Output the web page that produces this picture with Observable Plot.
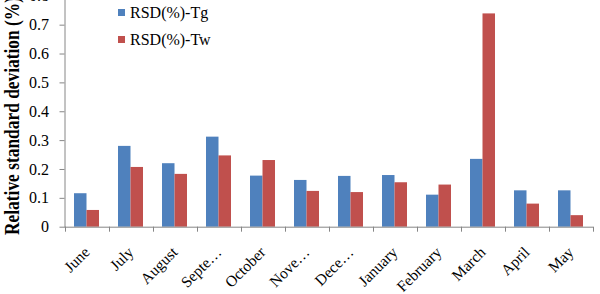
<!DOCTYPE html>
<html>
<head>
<meta charset="utf-8">
<script src="https://cdn.jsdelivr.net/npm/d3@7"></script>
<script src="https://cdn.jsdelivr.net/npm/@observablehq/plot@0.6"></script>
<style>
  body { margin: 0; background: #fff; }
  #chart { position: relative; width: 600px; height: 294px; overflow: hidden; }
  #chart svg text { fill: #000; }
  .legend { position: absolute; left: 118px; top: -1px; font: 16px "Liberation Serif", serif; color: #000; }
  .legend .row { display: flex; align-items: center; height: 27px; }
  .legend .sw { width: 7px; height: 7px; margin-right: 5px; }
</style>
</head>
<body>
<div id="chart"></div>
<script>
// Monthly relative standard deviation of Tg and Tw
const months = ["June", "July", "August", "Septe…", "October", "Nove…", "Dece…",
                "January", "February", "March", "April", "May"];
const rsdTg = [0.116, 0.280, 0.220, 0.312, 0.177, 0.162, 0.176, 0.179, 0.111, 0.235, 0.126, 0.126];
const rsdTw = [0.058, 0.207, 0.183, 0.247, 0.231, 0.124, 0.120, 0.154, 0.146, 0.739, 0.080, 0.040];
const seriesNames = ["RSD(%)-Tg", "RSD(%)-Tw"];
const seriesColors = ["#4F81BD", "#C0504D"];
const yTicks = [0, 0.1, 0.2, 0.3, 0.4, 0.5, 0.6, 0.7, 0.8];
const yTitle = "Relative standard deviation (%)";

const rows = months.map((m, i) => ({month: m, tg: rsdTg[i], tw: rsdTw[i]}));
const axisGray = "#868686";

const plot = Plot.plot({
  width: 600,
  height: 294,
  marginLeft: 64.5,
  marginRight: 7,
  marginTop: -4.2,
  marginBottom: 67.3,
  style: {color: axisGray, fontFamily: "'Liberation Serif', serif", fontSize: "16px", overflow: "visible"},
  x: {domain: months, padding: 0, axis: null},
  y: {domain: [0, 0.8], ticks: yTicks, tickSize: 5, tickPadding: 11, line: true, label: null,
      tickFormat: d => d === 0 ? "0" : d.toFixed(1)},
  marks: [
    Plot.barY(rows, {x: "month", y: "tg", fill: seriesColors[0], insetLeft: 9, insetRight: 22.5}),
    Plot.barY(rows, {x: "month", y: "tw", fill: seriesColors[1], insetLeft: 21.5, insetRight: 10}),
    Plot.ruleY([0], {stroke: axisGray}),
    // category separators below the baseline
    Plot.ruleX(months, {x: d => d, dx: -22, y1: 0, y2: 0, insetTop: 5, stroke: axisGray}),
    Plot.ruleX(months.slice(-1), {x: d => d, dx: 22, y1: 0, y2: 0, insetTop: 5, stroke: axisGray}),
    // slanted month labels
    Plot.text(months, {x: d => d, y: () => 0, text: d => d, rotate: -45, textAnchor: "end",
                       lineAnchor: "bottom", dx: 3, dy: 26, fill: "#000", fontSize: 15.5})
  ]
});

const chart = document.getElementById("chart");
chart.appendChild(plot);

// rotated, condensed y-axis title
d3.select(plot).append("text")
  .attr("transform", "translate(19,116) rotate(-90)")
  .attr("text-anchor", "middle")
  .attr("font-family", "'Liberation Serif', serif")
  .attr("font-weight", "bold")
  .attr("font-size", 22)
  .attr("textLength", 238)
  .attr("lengthAdjust", "spacingAndGlyphs")
  .style("fill", "#000")
  .text(yTitle);

// legend
const legend = d3.select(chart).append("div").attr("class", "legend");
seriesNames.forEach((name, i) => {
  const row = legend.append("div").attr("class", "row");
  row.append("div").attr("class", "sw").style("background", seriesColors[i]);
  row.append("span").text(name);
});
</script>
</body>
</html>
